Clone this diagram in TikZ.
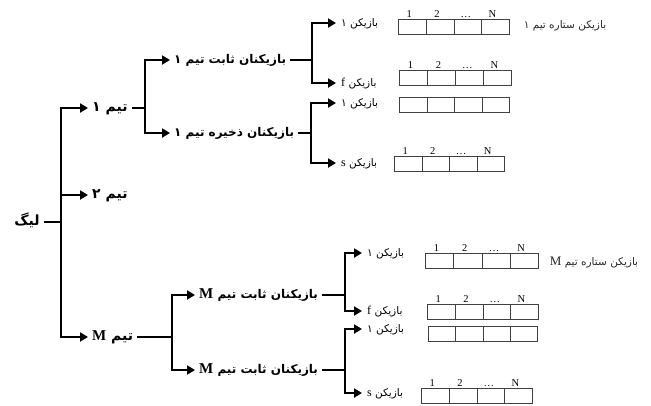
\documentclass[tikz,border=0pt]{standalone}
\usepackage{fontspec}
\usetikzlibrary{arrows.meta}
\TeXXeTstate=1
\newfontfamily\fa[Script=Arabic]{DejaVu Sans}
\newfontfamily\lat{Liberation Serif}
\tikzset{
  conn/.style={line width=2.8pt},
  arr/.style={line width=2.8pt, -{Triangle[length=8pt,width=9pt]}},
  fatxt/.style={text height=0.62em, text depth=0em},
  lvlA/.style={fatxt, inner xsep=4pt, inner ysep=1pt, font=\fa\bfseries\fontsize{14}{14}\selectfont},
  lvlB/.style={fatxt, inner xsep=4pt, inner ysep=1pt, font=\fa\bfseries\fontsize{12}{12}\selectfont},
  lvlC/.style={fatxt, inner xsep=5pt, inner ysep=1pt, font=\fa\fontsize{10.5}{11}\selectfont},
  star/.style={fatxt, inner sep=1pt, font=\fa\fontsize{10.5}{11}\selectfont, text=black!85},
  cellbox/.style={draw=black!75, line width=0.8pt, minimum height=15pt, inner sep=0pt},
  num/.style={anchor=south, inner sep=1pt, font=\lat\fontsize{10.5}{10.5}\selectfont}
}
\newcommand{\mkcells}[4]{%
  \pgfmathsetmacro{\cw}{#4/4}%
  \foreach \i in {1,2,3,4}{%
    \node[cellbox, minimum width=\cw pt, anchor=north west] (#1c\i) at ({#2+(\i-1)*\cw}, #3) {};
  }%
}
\newcommand{\mknums}[1]{%
  \node[num] (#1n1) at ([xshift=-3pt]#1c1.north) {1};
  \node[num] (#1n2) at ([xshift=-3pt]#1c2.north) {2};
  \node[num] (#1n3) at ([xshift=-2pt]#1c3.north) {\ldots};
  \node[num] (#1n4) at ([xshift=-3pt]#1c4.north) {N};
}
\begin{document}
\begin{tikzpicture}[x=1pt,y=-1pt]
\useasboundingbox (0,0) rectangle (651,405);
% level 0
\node[lvlA] (lig) at (27,222) {\beginR لیگ\endR};
\coordinate (j0) at (61,222);
\node[lvlA, anchor=west] (team1) at (88,108) {\beginR تیم ۱\endR};
\node[lvlA, anchor=west] (team2) at (88,195) {\beginR تیم ۲\endR};
\node[lvlA, anchor=west] (teamM) at (88,337) {\beginR تیم {\lat\bfseries\fontsize{15}{15}\selectfont M}\endR};
\draw[conn] (lig.east) -- (j0);
\draw[arr] (j0) |- (team1.west);
\draw[arr] (j0) |- (team2.west);
\draw[arr] (j0) |- (teamM.west);
% team 1
\coordinate (j1) at (145,108);
\node[lvlB, anchor=west] (fix1) at (170,60) {\beginR بازیکنان ثابت تیم ۱\endR};
\node[lvlB, anchor=west] (res1) at (170,133) {\beginR بازیکنان ذخیره تیم ۱\endR};
\draw[conn] (team1.east) -- (j1);
\draw[arr] (j1) |- (fix1.west);
\draw[arr] (j1) |- (res1.west);
\coordinate (j11) at (312,60);
\coordinate (j12) at (311,133);
\node[lvlC, anchor=west] (p11) at (336,23) {\beginR بازیکن ۱\endR};
\node[lvlC, anchor=west] (p12) at (336,83) {\beginR بازیکن {\lat\fontsize{12}{12}\selectfont f}\endR};
\node[lvlC, anchor=west] (p13) at (336,103) {\beginR بازیکن ۱\endR};
\node[lvlC, anchor=west] (p14) at (336,163) {\beginR بازیکن {\lat\fontsize{12}{12}\selectfont s}\endR};
\draw[conn] (fix1.east) -- (j11);
\draw[arr] (j11) |- (p11.west);
\draw[arr] (j11) |- (p12.west);
\draw[conn] (res1.east) -- (j12);
\draw[arr] (j12) |- (p13.west);
\draw[arr] (j12) |- (p14.west);
\mkcells{ba}{398}{19}{111}
\mkcells{bb}{399}{70}{112}
\mkcells{bc}{399}{97}{110}
\mkcells{bd}{394}{156}{110}
\mknums{ba}
\mknums{bb}
\mknums{bd}
\node[star] (star1) at (565,25) {\beginR بازیکن ستاره تیم ۱\endR};
% team M
\coordinate (j2) at (172,337);
\node[lvlB, anchor=west] (fixM1) at (195,295) {\beginR بازیکنان ثابت تیم {\lat\bfseries\fontsize{15}{15}\selectfont M}\endR};
\node[lvlB, anchor=west] (fixM2) at (195,370) {\beginR بازیکنان ثابت تیم {\lat\bfseries\fontsize{15}{15}\selectfont M}\endR};
\draw[conn] (teamM.east) -- (j2);
\draw[arr] (j2) |- (fixM1.west);
\draw[arr] (j2) |- (fixM2.west);
\coordinate (j21) at (345,295);
\coordinate (j22) at (345,370);
\node[lvlC, anchor=west] (q1) at (362,253) {\beginR بازیکن ۱\endR};
\node[lvlC, anchor=west] (q2) at (362,311) {\beginR بازیکن {\lat\fontsize{12}{12}\selectfont f}\endR};
\node[lvlC, anchor=west] (q3) at (362,329) {\beginR بازیکن ۱\endR};
\node[lvlC, anchor=west] (q4) at (362,393) {\beginR بازیکن {\lat\fontsize{12}{12}\selectfont s}\endR};
\draw[conn] (fixM1.east) -- (j21);
\draw[arr] (j21) |- (q1.west);
\draw[arr] (j21) |- (q2.west);
\draw[conn] (fixM2.east) -- (j22);
\draw[arr] (j22) |- (q3.west);
\draw[arr] (j22) |- (q4.west);
\mkcells{ca}{425}{253}{113}
\mkcells{cb}{427}{304}{111}
\mkcells{cc}{428}{326}{109}
\mkcells{cd}{421}{388}{111}
\mknums{ca}
\mknums{cb}
\mknums{cd}
\node[star] (star2) at (594,262) {\beginR بازیکن ستاره تیم {\lat\fontsize{13}{13}\selectfont M}\endR};
\end{tikzpicture}
\end{document}
